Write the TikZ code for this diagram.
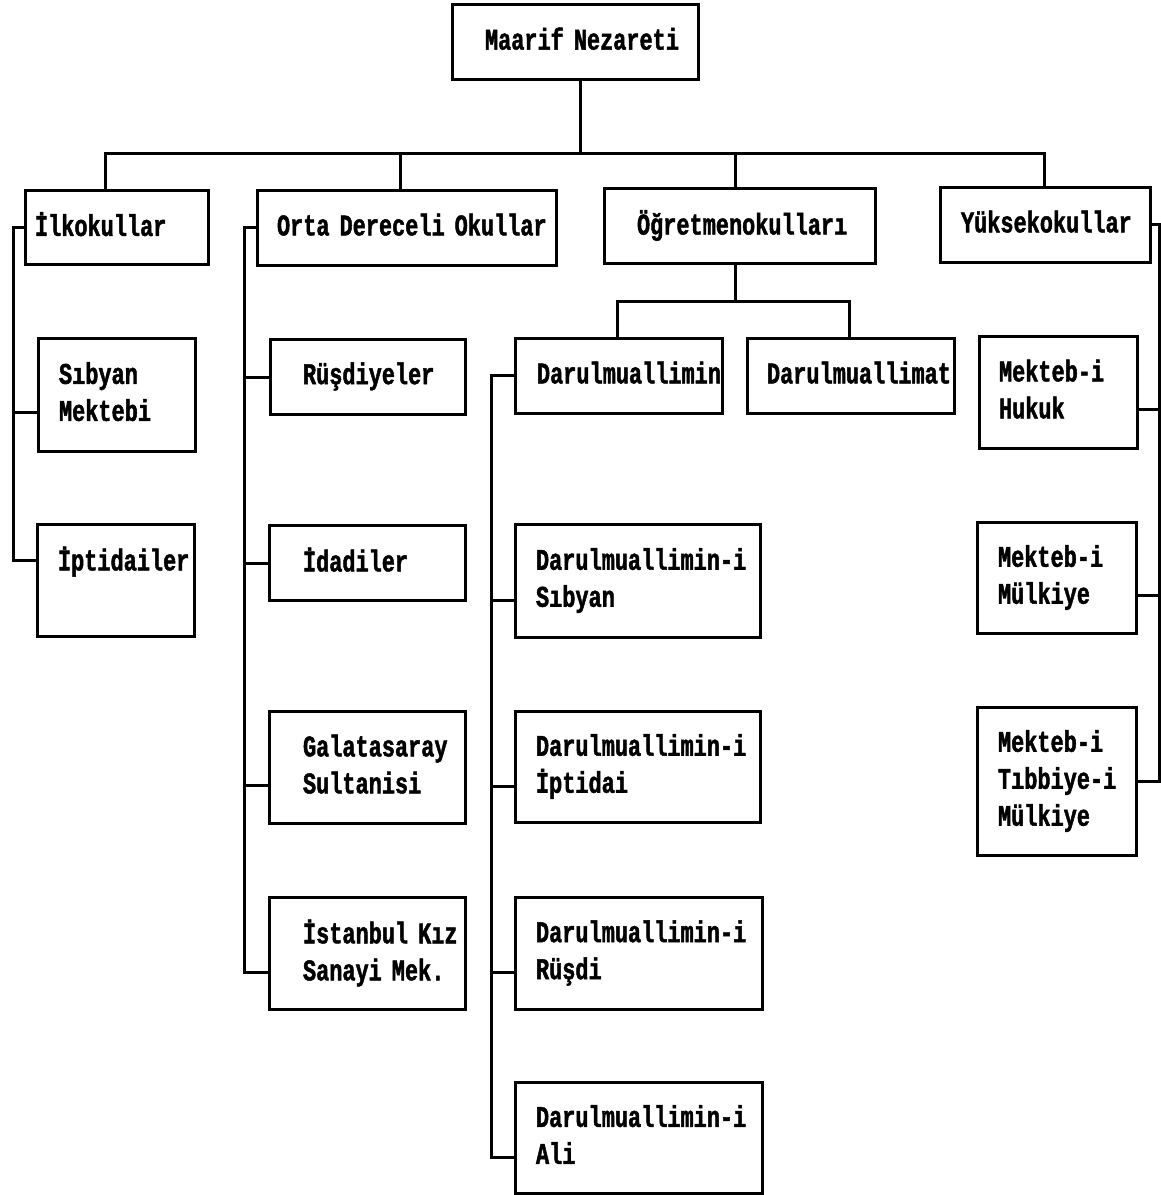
\documentclass[tikz,border=0pt]{standalone}
\usepackage{fontspec}
\newfontfamily\dotfont{Liberation Mono}[FakeStretch=0.73,FakeBold=1.5]
\newcommand\mst{\rule[-6pt]{0pt}{26pt}}
\newcommand\curins{0}
\newcommand\Lx{\mst\hspace*{\curins pt}}
\tikzset{
  ubx/.style={draw, line width=3pt, inner sep=0pt, align=left, anchor=center,
    font=\dotfont\bfseries\fontsize{30pt}{37pt}\selectfont},
  conn/.style={line width=3pt}
}
\newcommand\ubox[7]{%
  \pgfmathsetmacro\bw{#4-#2}%
  \pgfmathsetmacro\bh{#5-#3}%
  \renewcommand\curins{#6}%
  \node[ubx, minimum width=\bw pt, minimum height=\bh pt, text width=\bw pt]
    (#1) at ({(#2+#4)/2},{(#3+#5)/2}) {#7};%
}
\begin{document}
\begin{tikzpicture}[x=1pt,y=-1pt]
\fill[white] (0,0) rectangle (1161,1195);
\useasboundingbox (0,0) rectangle (1161,1195);

% boxes
\ubox{maarif}{452}{4}{698}{79}{33}{\Lx Maarif Nezareti}
\ubox{ilk}{25}{190}{208}{264}{10}{\Lx İlkokullar}
\ubox{orta}{257}{190}{556}{265}{20}{\Lx Orta Dereceli Okullar}
\ubox{ogr}{604}{188}{875}{263}{33}{\Lx Öğretmenokulları}
\ubox{yuk}{940}{187}{1150}{262}{21}{\Lx Yüksekokullar}

\ubox{sib}{38}{338}{195}{451}{21}{\Lx Sıbyan\\\Lx Mektebi}
\ubox{ipt}{37}{524}{194}{636}{21}{\Lx İptidailer\\\Lx}

\ubox{rus}{270}{339}{465}{414}{33}{\Lx Rüşdiyeler}
\ubox{ida}{269}{525}{465}{600}{34}{\Lx İdadiler}
\ubox{gal}{269}{711}{465}{823}{34}{\Lx Galatasaray\\\Lx Sultanisi}
\ubox{ist}{269}{897}{465}{1009}{34}{\Lx İstanbul Kız\\\Lx Sanayi Mek.}

\ubox{dm}{515}{338}{722}{413}{22}{\Lx Darulmuallimin}
\ubox{dmat}{747}{338}{954}{413}{20}{\Lx Darulmuallimat}
\ubox{ds}{515}{524}{760}{637}{21}{\Lx Darulmuallimin-i\\\Lx Sıbyan}
\ubox{di}{515}{711}{760}{822}{21}{\Lx Darulmuallimin-i\\\Lx İptidai}
\ubox{dr}{515}{897}{762}{1009}{21}{\Lx Darulmuallimin-i\\\Lx Rüşdi}
\ubox{da}{515}{1082}{762}{1193}{21}{\Lx Darulmuallimin-i\\\Lx Ali}

\ubox{mh}{979}{336}{1137}{448}{20}{\Lx Mekteb-i\\\Lx Hukuk}
\ubox{mm}{977}{522}{1136}{633}{21}{\Lx Mekteb-i\\\Lx Mülkiye}
\ubox{mt}{977}{707}{1136}{855}{21}{\Lx Mekteb-i\\\Lx Tıbbiye-i\\\Lx Mülkiye}

% top bus
\coordinate (j0) at (580,153);
\coordinate (j1) at (105,153);
\coordinate (j2) at (400,153);
\coordinate (j3) at (735,153);
\coordinate (j4) at (1044,153);
\draw[conn] (maarif.south -| j0) -- (j0);
\draw[conn] (ilk.north -| j1) -- (j1) -- (j4) -- (yuk.north -| j4);
\draw[conn] (j2) -- (orta.north -| j2);
\draw[conn] (j3) -- (ogr.north -| j3);

% teacher schools split
\coordinate (k0) at (735,301);
\coordinate (k1) at (617,301);
\coordinate (k2) at (849,301);
\draw[conn] (ogr.south -| k0) -- (k0);
\draw[conn] (dm.north -| k1) -- (k1) -- (k2) -- (dmat.north -| k2);

% primary spine
\coordinate (a1) at (13,412);
\coordinate (a2) at (13,560);
\draw[conn] (ilk.west) -| (a2) -- (a2 -| ipt.west);
\draw[conn] (a1) -- (a1 -| sib.west);

% secondary spine
\coordinate (b1) at (244,377);
\coordinate (b2) at (244,563);
\coordinate (b3) at (244,785);
\coordinate (b4) at (244,972);
\draw[conn] (orta.west) -| (b4) -- (b4 -| ist.west);
\draw[conn] (b1) -- (b1 -| rus.west);
\draw[conn] (b2) -- (b2 -| ida.west);
\draw[conn] (b3) -- (b3 -| gal.west);

% darulmuallimin spine
\coordinate (c1) at (491,600);
\coordinate (c2) at (491,786);
\coordinate (c3) at (491,972);
\coordinate (c4) at (491,1157);
\draw[conn] (dm.west) -| (c4) -- (c4 -| da.west);
\draw[conn] (c1) -- (c1 -| ds.west);
\draw[conn] (c2) -- (c2 -| di.west);
\draw[conn] (c3) -- (c3 -| dr.west);

% higher schools spine
\coordinate (d1) at (1159,409);
\coordinate (d2) at (1159,595);
\coordinate (d3) at (1159,781);
\draw[conn] (yuk.east) -| (d3) -- (d3 -| mt.east);
\draw[conn] (d1) -- (d1 -| mh.east);
\draw[conn] (d2) -- (d2 -| mm.east);
\end{tikzpicture}
\end{document}
